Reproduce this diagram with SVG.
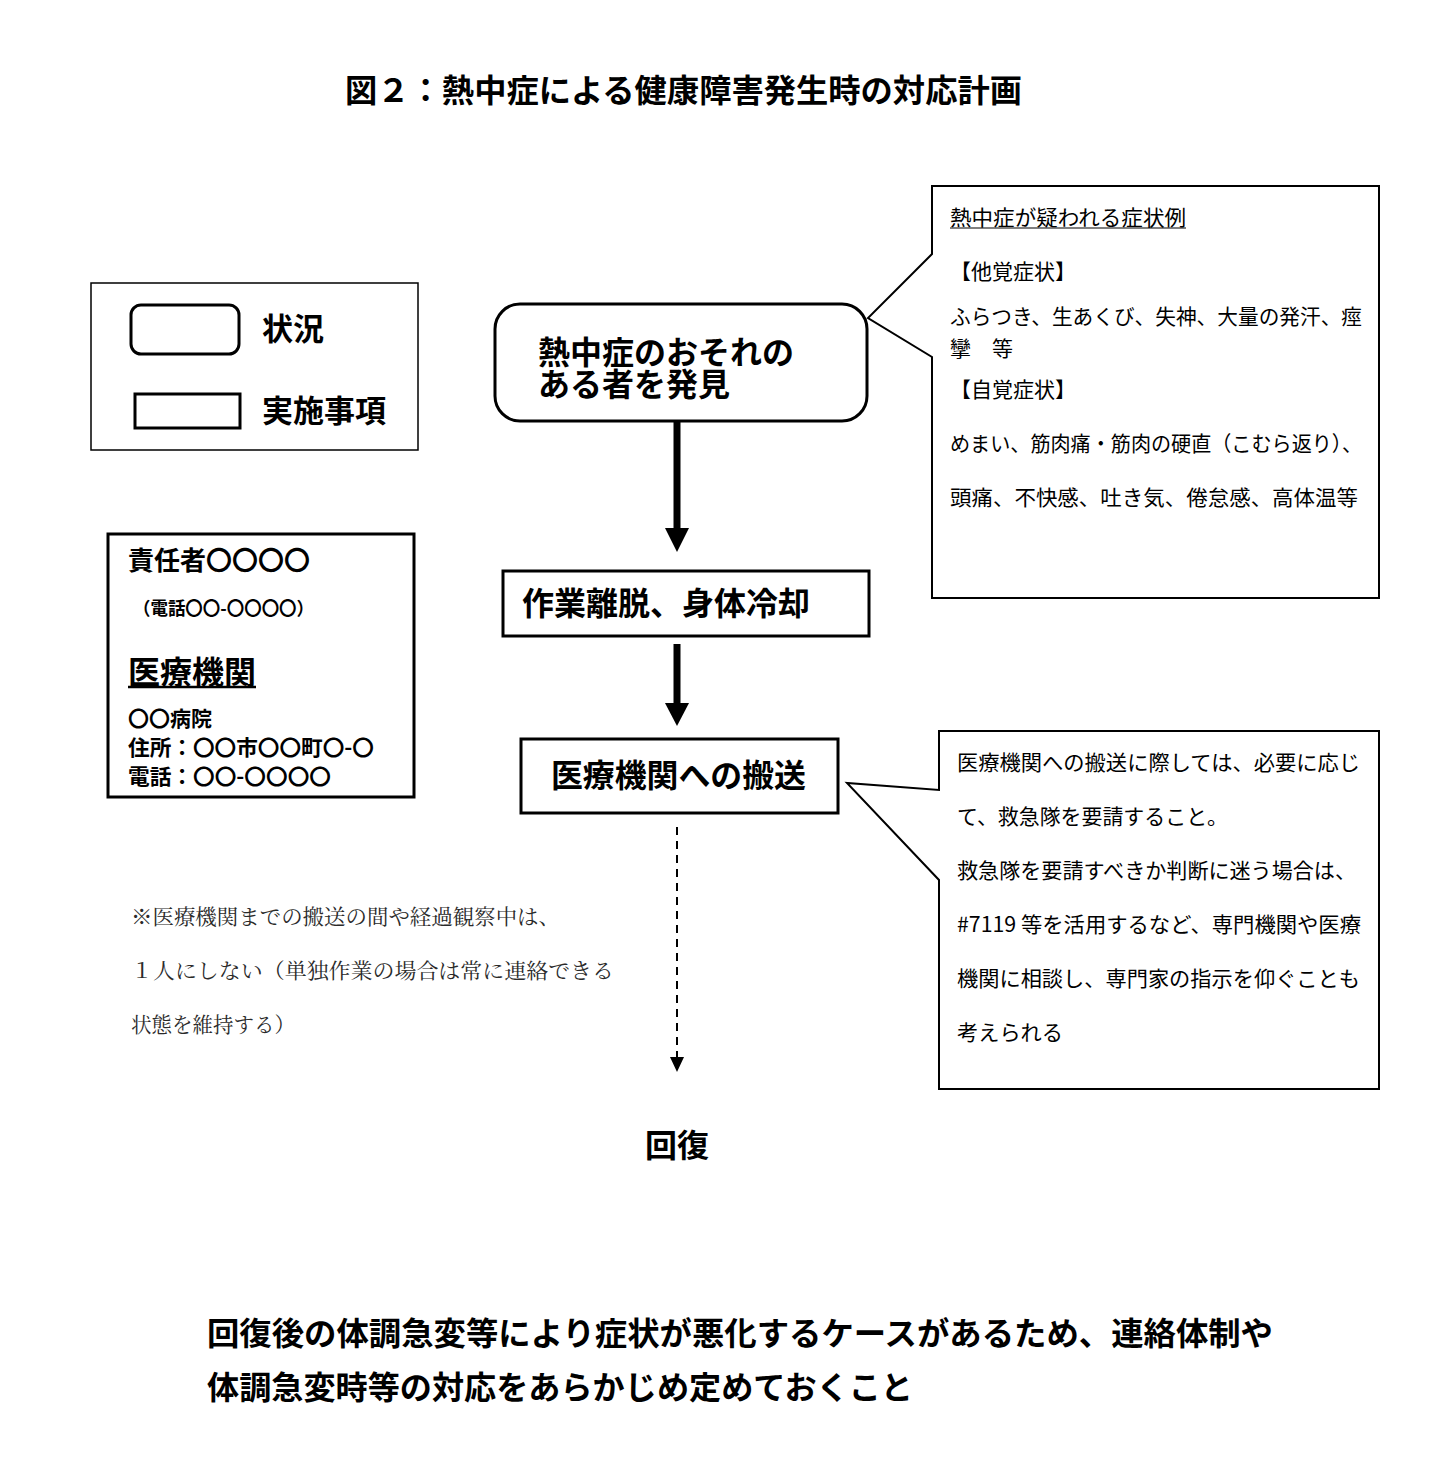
<svg xmlns="http://www.w3.org/2000/svg" width="1450" height="1482" viewBox="0 0 1450 1482">
<style>
text{font-family:"Noto Sans CJK JP","Noto Sans",sans-serif;fill:#000}
.b{font-weight:700}
.t32{font-size:32px}
.t31{font-size:31px}
.t26{font-size:26px}
.t21{font-size:21px}
.t18{font-size:18px}
.note{font-family:"Noto Serif CJK JP","Noto Sans CJK JP",serif;font-size:21px;fill:#2a2a2a;font-weight:400}
.box{fill:#fff;stroke:#000;stroke-width:3}
.thin{fill:#fff;stroke:#000;stroke-width:1.5}
.call{fill:#fff;stroke:#000;stroke-width:2;stroke-linejoin:miter}
.shaft{stroke:#000;stroke-width:7}
.dash{stroke:#000;stroke-width:2;stroke-dasharray:8 6}
</style>
<rect width="1450" height="1482" fill="#fff"/>
<g id="title">
<text class="b t32" x="345" y="102" textLength="677" lengthAdjust="spacingAndGlyphs">図２：熱中症による健康障害発生時の対応計画</text>
</g>
<g id="legend">
<rect class="thin" x="91" y="283" width="327" height="167"/>
<rect class="box" x="131" y="305" width="108" height="49" rx="10"/>
<text class="b t31" x="262" y="340">状況</text>
<rect class="box" x="135" y="394" width="105" height="34"/>
<text class="b t31" x="262" y="422">実施事項</text>
</g>
<g id="contacts">
<rect class="box" x="108" y="534" width="306" height="263"/>
<text class="b t26" x="128" y="570">責任者〇〇〇〇</text>
<text class="b t18" x="133" y="615" textLength="181" lengthAdjust="spacingAndGlyphs">（電話〇〇-〇〇〇〇）</text>
<text class="b t32" x="128" y="684">医療機関</text>
<line x1="128" y1="687" x2="256" y2="687" stroke="#000" stroke-width="2.5"/>
<text class="b t21" x="128" y="726">〇〇病院</text>
<text class="b t21" x="128" y="755" textLength="246" lengthAdjust="spacingAndGlyphs">住所：〇〇市〇〇町〇-〇</text>
<text class="b t21" x="128" y="784" textLength="203" lengthAdjust="spacingAndGlyphs">電話：〇〇-〇〇〇〇</text>
</g>
<g id="connectors">
<line class="shaft" x1="677" y1="422" x2="677" y2="530"/>
<polygon points="665,528 689,528 677,552" fill="#000"/>
<line class="shaft" x1="677" y1="644" x2="677" y2="705"/>
<polygon points="665,703 689,703 677,726" fill="#000"/>
<line class="dash" x1="677" y1="827" x2="677" y2="1058"/>
<polygon points="670,1057 684,1057 677,1072" fill="#000"/>
</g>
<g id="node-discover">
<rect class="box" x="495" y="304" width="372" height="117" rx="25"/>
<text class="b t32" x="538" y="364">熱中症のおそれの<tspan x="538" dy="32">ある者を発見</tspan></text>
</g>
<g id="node-cool">
<rect class="box" x="503" y="571" width="366" height="65"/>
<text class="b t32" x="522" y="615" textLength="288" lengthAdjust="spacingAndGlyphs">作業離脱、身体冷却</text>
</g>
<g id="node-transport">
<rect class="box" x="521" y="739" width="317" height="74"/>
<text class="b t32" x="551" y="787" textLength="255" lengthAdjust="spacingAndGlyphs">医療機関への搬送</text>
</g>
<g id="node-recovery">
<text class="b t32" x="645" y="1157">回復</text>
</g>
<g id="callout-symptoms">
<path class="call" d="M932,254 L932,186 L1379,186 L1379,598 L932,598 L932,357 L868,318 Z"/>
<text class="t21" x="950" y="225" textLength="236" lengthAdjust="spacingAndGlyphs">熱中症が疑われる症状例</text>
<line x1="950" y1="228" x2="1186" y2="228" stroke="#000" stroke-width="1.2"/>
<text class="t21" x="950" y="279">【他覚症状】</text>
<text class="t21" x="950" y="324" textLength="412" lengthAdjust="spacingAndGlyphs">ふらつき、生あくび、失神、大量の発汗、痙</text>
<text class="t21" x="950" y="356">攣　等</text>
<text class="t21" x="950" y="397">【自覚症状】</text>
<text class="t21" x="950" y="451" textLength="412" lengthAdjust="spacingAndGlyphs">めまい、筋肉痛・筋肉の硬直（こむら返り）、</text>
<text class="t21" x="950" y="505" textLength="408" lengthAdjust="spacingAndGlyphs">頭痛、不快感、吐き気、倦怠感、高体温等</text>
</g>
<g id="callout-transport">
<path class="call" d="M939,790 L939,731 L1379,731 L1379,1089 L939,1089 L939,880 L847,783 Z"/>
<text class="t21" x="957" y="770" textLength="403" lengthAdjust="spacingAndGlyphs">医療機関への搬送に際しては、必要に応じ</text>
<text class="t21" x="957" y="824" textLength="271" lengthAdjust="spacingAndGlyphs">て、救急隊を要請すること。</text>
<text class="t21" x="957" y="878" textLength="399" lengthAdjust="spacingAndGlyphs">救急隊を要請すべきか判断に迷う場合は、</text>
<text class="t21" x="957" y="932" textLength="404" lengthAdjust="spacingAndGlyphs">#7119 等を活用するなど、専門機関や医療</text>
<text class="t21" x="957" y="986" textLength="403" lengthAdjust="spacingAndGlyphs">機関に相談し、専門家の指示を仰ぐことも</text>
<text class="t21" x="957" y="1040" textLength="106" lengthAdjust="spacingAndGlyphs">考えられる</text>
</g>
<g id="note">
<text class="note" x="131" y="924" textLength="429" lengthAdjust="spacingAndGlyphs">※医療機関までの搬送の間や経過観察中は、</text>
<text class="note" x="131" y="978" textLength="483" lengthAdjust="spacingAndGlyphs">１人にしない（単独作業の場合は常に連絡できる</text>
<text class="note" x="131" y="1032" textLength="164" lengthAdjust="spacingAndGlyphs">状態を維持する）</text>
</g>
<g id="footer">
<text class="b t32" x="207" y="1345" textLength="1066" lengthAdjust="spacingAndGlyphs">回復後の体調急変等により症状が悪化するケースがあるため、連絡体制や</text>
<text class="b t32" x="207" y="1399" textLength="706" lengthAdjust="spacingAndGlyphs">体調急変時等の対応をあらかじめ定めておくこと</text>
</g>
</svg>
